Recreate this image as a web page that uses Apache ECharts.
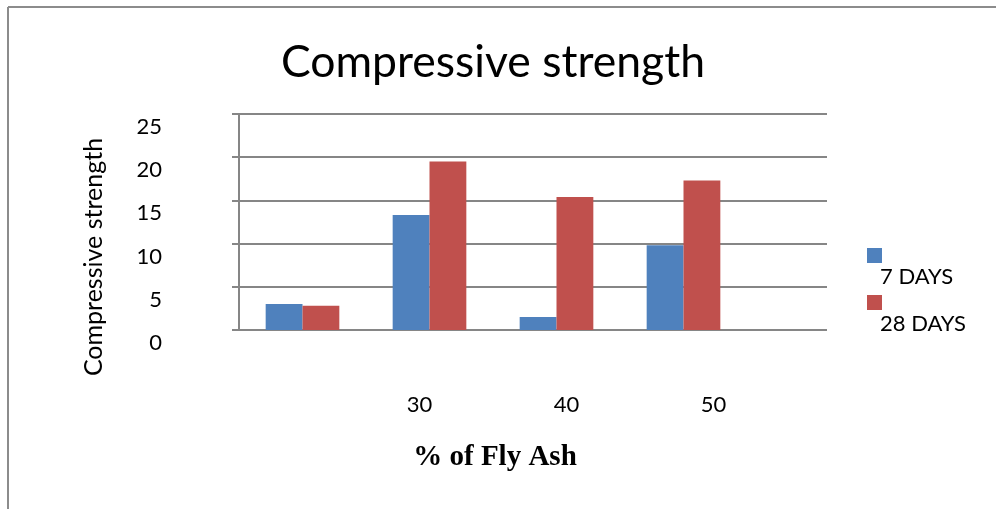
<!DOCTYPE html>
<html><head><meta charset="utf-8">
<script src="https://cdn.jsdelivr.net/npm/echarts@6/dist/echarts.min.js"></script>
<style>html,body{margin:0;padding:0;background:#fff}#c{width:996px;height:509px}</style>
</head><body><div id="c"></div>
<script>
const categories = ['', '30', '40', '50'];
const days7 = [3.0, 13.3, 1.5, 9.8];
const days28 = [2.8, 19.5, 15.4, 17.3];
const seriesNames = ['7 DAYS', '28 DAYS'];
const seriesColors = ['#4F81BD', '#C0504D'];

const lineColor = '#868686';
const font = 'Lato';
const chart = echarts.init(document.getElementById('c'), null, {renderer: 'canvas'});
const legendBase = {
  orient: 'vertical', left: 867, padding: 0, itemWidth: 15, itemHeight: 15, icon: 'rect',
  selectedMode: false,
  formatter: function (name) { return '{t|' + name + '}'; },
  textStyle: {fontSize: 22, fontFamily: font, color: '#000', padding: [0, 0, 0, -7],
    rich: {t: {fontSize: 22, fontFamily: font, color: '#000', padding: [42, 0, 0, 0]}}}
};
chart.setOption({
  animation: false,
  backgroundColor: '#fff',
  title: {
    text: 'Compressive strength', left: 488, textAlign: 'center', top: 35,
    textStyle: {fontSize: 44.5, fontWeight: 'normal', fontFamily: font, color: '#000'}
  },
  graphic: [
    {type: 'line', shape: {x1: 8, y1: 7, x2: 996, y2: 7}, style: {stroke: '#8c8c8c', lineWidth: 2}},
    {type: 'line', shape: {x1: 8, y1: 7, x2: 8, y2: 509}, style: {stroke: '#8c8c8c', lineWidth: 2}}
  ],
  legend: [
    Object.assign({}, legendBase, {data: [seriesNames[0]], top: 248}),
    Object.assign({}, legendBase, {data: [seriesNames[1]], top: 295})
  ],
  grid: [
    {left: 239, right: 169, top: 114, bottom: 179},
    {left: 239, right: 249, top: 114, bottom: 179}
  ],
  xAxis: [
    {
      gridIndex: 0, type: 'category', data: categories,
      axisLine: {show: false}, axisTick: {show: false}, splitLine: {show: false},
      axisLabel: {margin: 64, fontSize: 22, fontFamily: font, color: '#000', padding: [0, 80, 0, 0]},
      name: '% of Fly Ash', nameLocation: 'middle', nameGap: 113,
      nameTextStyle: {fontFamily: 'Liberation Serif', fontWeight: 'bold', fontSize: 29, color: '#000', padding: [0, 76, 0, 0]}
    },
    {gridIndex: 1, type: 'category', data: categories, show: false}
  ],
  yAxis: [
    {
      gridIndex: 0, type: 'value', min: 0, max: 25, interval: 5,
      axisLine: {show: true, lineStyle: {color: lineColor, width: 2}},
      axisTick: {show: true, length: 7, lineStyle: {color: lineColor, width: 2}},
      splitLine: {show: true, lineStyle: {color: lineColor, width: 2}},
      axisLabel: {margin: 77, fontSize: 22, fontFamily: font, color: '#000', verticalAlign: 'top', lineHeight: 26},
      name: 'Compressive strength', nameLocation: 'middle', nameGap: 133,
      nameTextStyle: {fontSize: 25, fontFamily: font, color: '#000', padding: [0, 70, 0, 0]}
    },
    {gridIndex: 1, type: 'value', min: 0, max: 25, interval: 5, show: false}
  ],
  series: [
    {type: 'bar', name: seriesNames[0], xAxisIndex: 1, yAxisIndex: 1, data: days7,
     itemStyle: {color: seriesColors[0]}, barGap: '0%', barCategoryGap: '42%'},
    {type: 'bar', name: seriesNames[1], xAxisIndex: 1, yAxisIndex: 1, data: days28,
     itemStyle: {color: seriesColors[1]}, barGap: '0%', barCategoryGap: '42%'}
  ]
});
</script></body></html>
